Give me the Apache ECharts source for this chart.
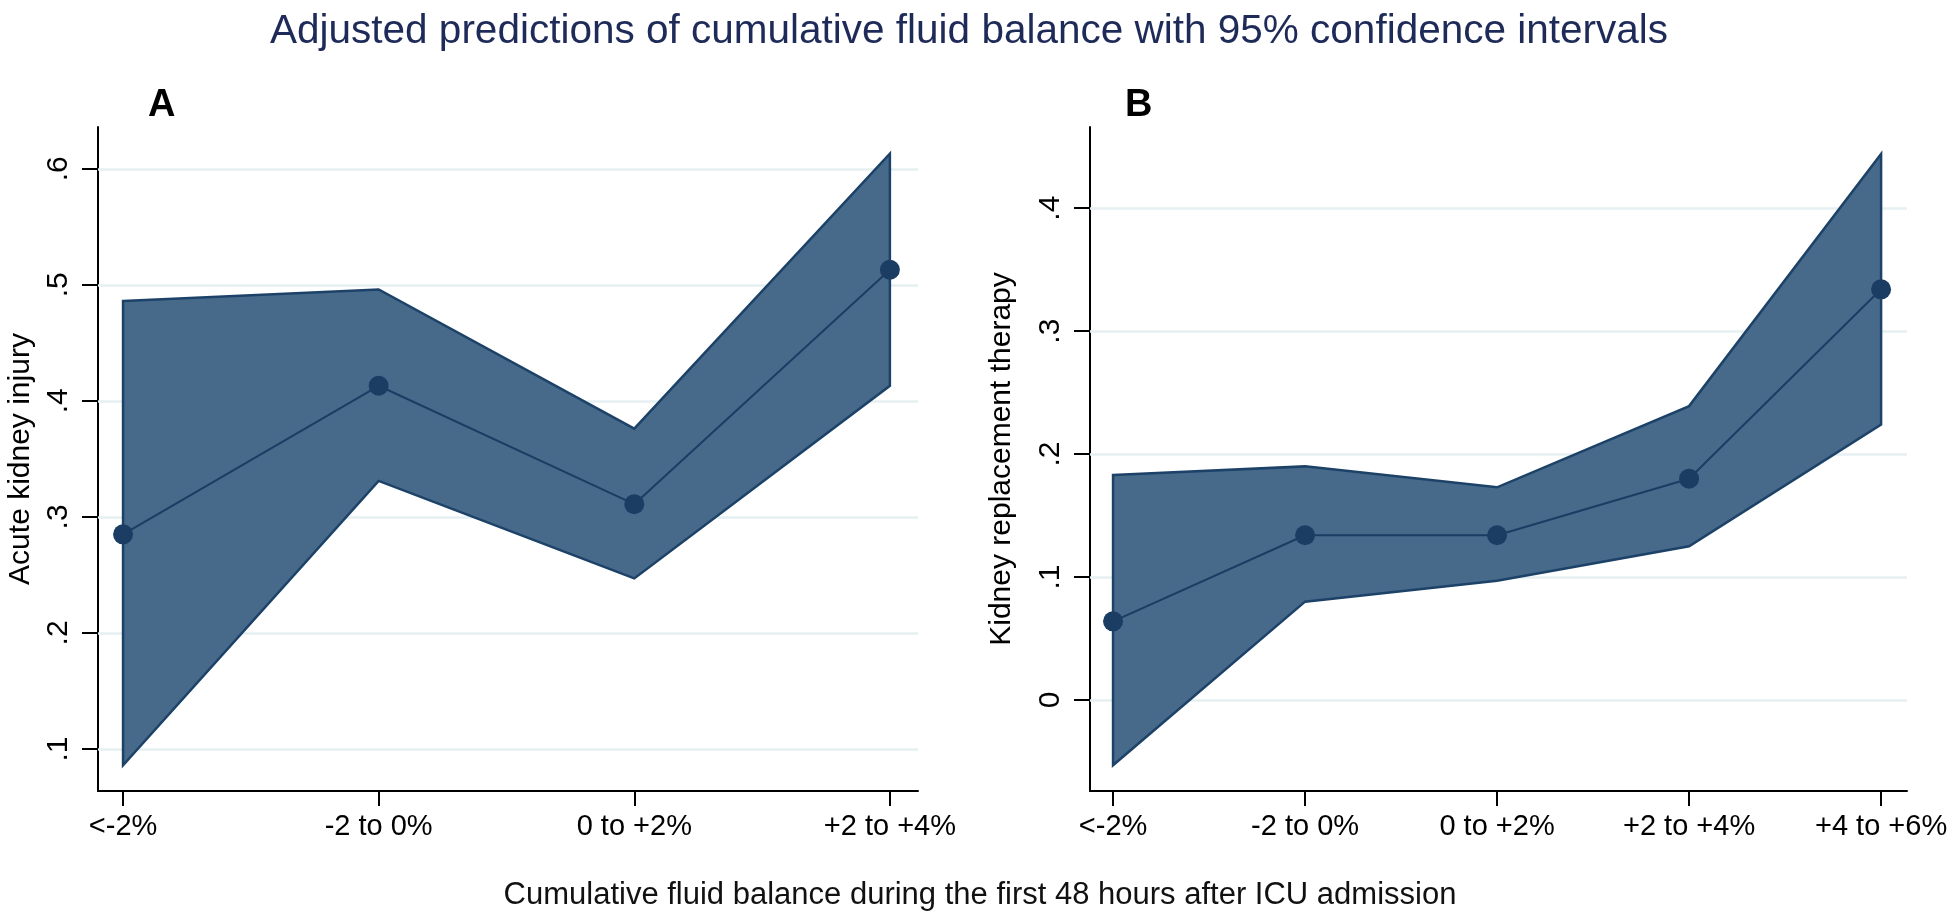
<!DOCTYPE html>
<html>
<head>
<meta charset="utf-8">
<script src="https://cdn.jsdelivr.net/npm/echarts@6/dist/echarts.min.js"></script>
<style>html,body{margin:0;padding:0;background:#fff;}#c{width:1960px;height:914px;}</style>
</head>
<body>
<div id="c"></div>
<script>
const mainTitle = 'Adjusted predictions of cumulative fluid balance with 95% confidence intervals';
const xTitle = 'Cumulative fluid balance during the first 48 hours after ICU admission';
const yTitleA = 'Acute kidney injury';
const yTitleB = 'Kidney replacement therapy';

const categoriesA = ['<-2%', '-2 to 0%', '0 to +2%', '+2 to +4%'];
const predA  = [0.285, 0.413, 0.311, 0.513];
const lowerA = [0.086, 0.331, 0.247, 0.413];
const upperA = [0.486, 0.496, 0.376, 0.613];
const yTicksA = [0.1, 0.2, 0.3, 0.4, 0.5, 0.6];
const yLabelsA = ['.1', '.2', '.3', '.4', '.5', '.6'];

const categoriesB = ['<-2%', '-2 to 0%', '0 to +2%', '+2 to +4%', '+4 to +6%'];
const predB  = [0.064, 0.134, 0.134, 0.180, 0.334];
const lowerB = [-0.053, 0.080, 0.097, 0.125, 0.224];
const upperB = [0.183, 0.190, 0.173, 0.239, 0.444];
const yTicksB = [0, 0.1, 0.2, 0.3, 0.4];
const yLabelsB = ['0', '.1', '.2', '.3', '.4'];

const FONT = 'Liberation Sans, Arial, sans-serif';
const BAND_FILL = '#476a8b';
const BAND_EDGE = '#1d4268';
const LINE_COL = '#1b3d63';
const GRID_COL = '#e6eff2';

function idx(arr) { return arr.map((_, i) => i); }

function bandSeries(gi, lower, upper) {
  return {
    type: 'custom', xAxisIndex: gi, yAxisIndex: gi, z: 10, silent: true,
    data: lower.map((l, i) => [i, l, upper[i]]),
    renderItem: function (params, api) {
      if (params.dataIndex !== 0) return null;
      const pts = [];
      for (let i = 0; i < upper.length; i++) pts.push(api.coord([i, upper[i]]));
      for (let i = lower.length - 1; i >= 0; i--) pts.push(api.coord([i, lower[i]]));
      return {
        type: 'polygon',
        shape: { points: pts },
        style: { fill: BAND_FILL, stroke: BAND_EDGE, lineWidth: 2.5, lineJoin: 'miter' }
      };
    }
  };
}

function gridLineSeries(gi, ticks) {
  return {
    type: 'line', xAxisIndex: gi, yAxisIndex: gi, z: 1, data: [], silent: true,
    markLine: {
      silent: true, symbol: 'none', label: { show: false }, z: 1,
      lineStyle: { color: GRID_COL, width: 2.5, type: 'solid' },
      emphasis: { disabled: true },
      data: ticks.map(t => ({ yAxis: t }))
    }
  };
}

function pointSeries(gi, pred) {
  return {
    type: 'line', xAxisIndex: gi, yAxisIndex: gi, z: 12,
    data: pred.map((v, i) => [i, v]),
    symbol: 'circle', symbolSize: 20,
    lineStyle: { color: LINE_COL, width: 2 },
    itemStyle: { color: LINE_COL },
    emphasis: { disabled: true }
  };
}

function xAxisDef(gi, cats, min, max) {
  return {
    type: 'value', gridIndex: gi, min: min, max: max,
    axisLine: { show: true, onZero: false, lineStyle: { color: '#000', width: 2 } },
    axisTick: { show: true, length: 15, customValues: idx(cats), lineStyle: { color: '#000', width: 2 } },
    axisLabel: { customValues: idx(cats), formatter: v => cats[Math.round(v)], color: '#000',
      fontFamily: FONT, fontSize: 29, margin: 21 },
    splitLine: { show: false }
  };
}

function yAxisDef(gi, ticks, labels, min, max, name, gap) {
  return {
    type: 'value', gridIndex: gi, min: min, max: max,
    name: name, nameLocation: 'middle', nameGap: gap, nameRotate: 90,
    nameTextStyle: { color: '#000', fontFamily: FONT, fontSize: 30 },
    axisLine: { show: true, onZero: false, lineStyle: { color: '#000', width: 2 } },
    axisTick: { show: true, length: 16, customValues: ticks, lineStyle: { color: '#000', width: 2 } },
    axisLabel: { customValues: ticks, rotate: 90, margin: 24, color: '#000',
      fontFamily: FONT, fontSize: 30,
      formatter: v => { const k = ticks.findIndex(t => Math.abs(t - v) < 1e-9); return k >= 0 ? labels[k] : ''; } },
    splitLine: { show: false }
  };
}

const chart = echarts.init(document.getElementById('c'), null, { renderer: 'canvas' });
chart.setOption({
  backgroundColor: '#fff',
  animation: false,
  title: [
    { text: mainTitle, left: 265, top: 6,
      textStyle: { fontFamily: FONT, fontSize: 40.5, fontWeight: 'normal', color: '#1e2b58' } },
    { text: 'A', left: 143, top: 82,
      textStyle: { fontFamily: FONT, fontSize: 38, fontWeight: 'bold', color: '#000' } },
    { text: 'B', left: 1120, top: 82,
      textStyle: { fontFamily: FONT, fontSize: 38, fontWeight: 'bold', color: '#000' } },
    { text: xTitle, left: 'center', top: 875,
      textStyle: { fontFamily: FONT, fontSize: 31, fontWeight: 'normal', color: '#111' } }
  ],
  grid: [
    { left: 98, top: 127, width: 820, height: 664 },
    { left: 1090, top: 127, width: 817, height: 664 }
  ],
  xAxis: [
    xAxisDef(0, categoriesA, -0.098, 3.11),
    xAxisDef(1, categoriesB, -0.12, 4.135)
  ],
  yAxis: [
    yAxisDef(0, yTicksA, yLabelsA, 0.0638, 0.636, yTitleA, 62),
    yAxisDef(1, yTicksB, yLabelsB, -0.074, 0.466, yTitleB, 73)
  ],
  series: [
    gridLineSeries(0, yTicksA),
    gridLineSeries(1, yTicksB),
    bandSeries(0, lowerA, upperA),
    bandSeries(1, lowerB, upperB),
    pointSeries(0, predA),
    pointSeries(1, predB)
  ]
});
</script>
</body>
</html>
